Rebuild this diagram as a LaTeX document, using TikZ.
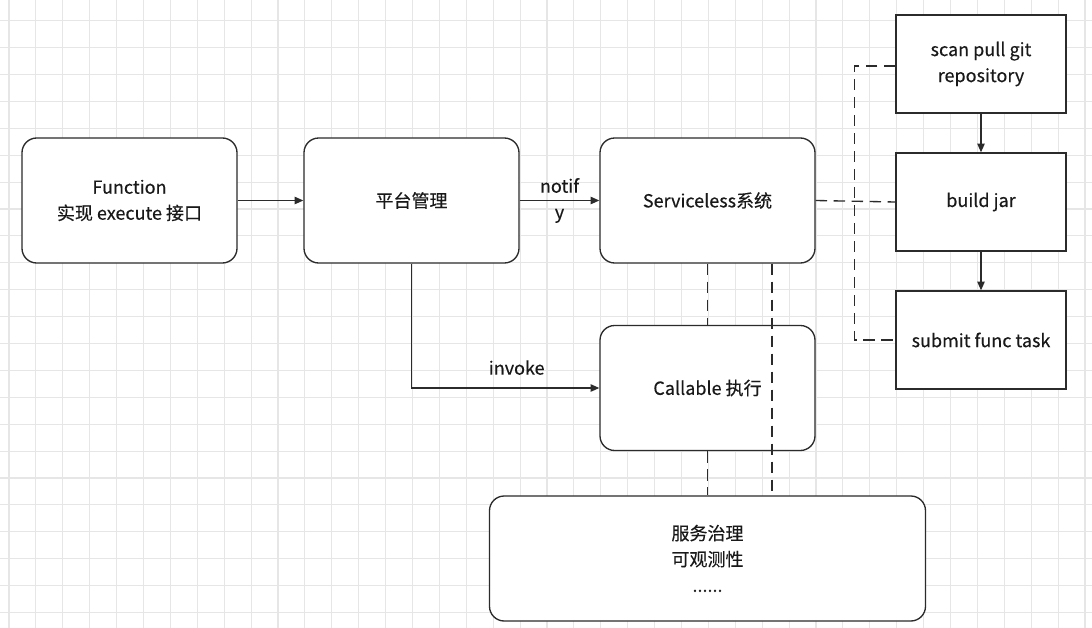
\documentclass[tikz,border=0pt]{standalone}
\usepackage{xcolor}
\usepackage{fontspec}
\setmainfont{Noto Sans CJK SC}[UprightFeatures={FakeBold=0.3}]
\usepackage{tikz}
\usetikzlibrary{arrows.meta,positioning}

\definecolor{gridgray}{HTML}{E6E6E6}
\definecolor{linegray}{HTML}{2B2B2B}

\begin{document}
\begin{tikzpicture}[
  x=0.75pt,y=-0.75pt,
  every node/.style={font=\fontsize{13.5}{19.5}\selectfont,text=black!90,align=center},
  gridline/.style={draw=gridgray,line width=0.8pt},
  roundbox/.style={draw=linegray,line width=1pt,rounded corners=11pt,fill=white,
    minimum width=161.25pt,minimum height=93.75pt,inner sep=0pt},
  stepbox/.style={draw=linegray,line width=1pt,fill=white,
    minimum width=127.5pt,minimum height=73.5pt,inner sep=0pt},
  flow/.style={draw=linegray,line width=1pt,-{Triangle[length=6.5pt,width=5.5pt]}},
  dashlink/.style={draw=linegray,line width=1pt,dash pattern=on 8.5pt off 5pt}
  ]
  \useasboundingbox (0,0) rectangle (1092,628);
  \fill[white] (0,0) rectangle (1092,628);
  \foreach \gx in {0,...,40}
    \draw[gridline] ({9+26.9*\gx},0) -- ++(0,628);
  \foreach \gy in {0,...,22}
    \draw[gridline] (0,{20.7+26.9*\gy}) -- ++(1092,0);

  \node[roundbox] (func) at (129.5,200.5) {Function\\实现 execute 接口};
  \node[roundbox] (plat) at (411.5,200.5) {平台管理};
  \node[roundbox] (svc) at (707.5,200.5) {Serviceless系统};
  \node[roundbox] (call) at (707.5,388) {Callable 执行};
  \node[roundbox,minimum width=327pt] (gov) at (707.5,558.5) {服务治理\\可观测性\\......};

  \node[stepbox] (scan) at (981,64) {scan pull git\\repository};
  \node[stepbox,below=29pt of scan] (jar) {build jar};
  \node[stepbox,below=29pt of jar] (submit) {submit func task};

  \draw[flow] (func) -- (plat);
  \draw[flow] (plat) -- node {notif\\y} (svc);
  \draw[flow] (plat.south) |- node[pos=0.78,above=6pt] {invoke} (call.west);
  \draw[flow] (scan) -- (jar);
  \draw[flow] (jar) -- (submit);

  \draw[dashlink] (svc.east) -- (jar.west);
  \draw[dashlink] ([yshift=-1.5pt]scan.west) -- ++(-41,0) |- (submit.west);
  \draw[dashlink] (svc.south) -- (call.north);
  \draw[dashlink] (call.south) -- (gov.north -| call.south);
  \draw[dashlink] ([xshift=48.4pt]svc.south) -- ([xshift=48.4pt]svc.south |- gov.north);
\end{tikzpicture}
\end{document}
